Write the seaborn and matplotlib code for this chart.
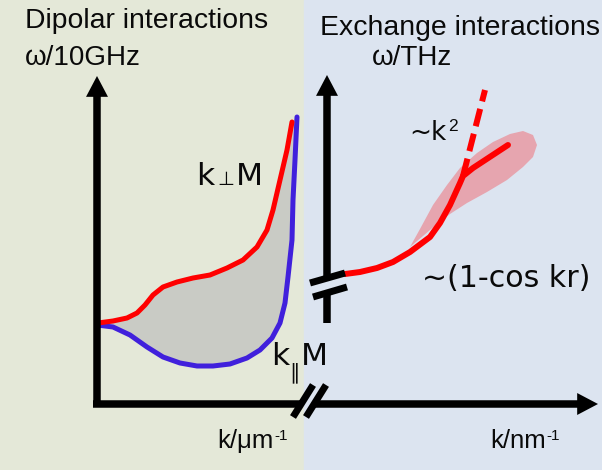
import matplotlib
matplotlib.use("Agg")
import numpy as np
import pandas as pd
import seaborn as sns
import matplotlib.pyplot as plt
from matplotlib.patches import FancyArrowPatch, ArrowStyle, Polygon

sns.set_theme(style="white")
plt.rcParams["font.family"] = ["Liberation Sans", "DejaVu Sans"]

# ---- data (picture coordinates: x right, y down) ----
k_perp_x = [98, 113, 127, 137, 145, 153, 163, 177, 193, 210, 227, 243, 257, 267, 273, 280, 287, 292]
k_perp_y = [323, 321, 318, 313, 305, 295, 287, 282, 278, 275, 268, 260, 247, 230, 210, 180, 150, 122]
k_par_x = [97, 113, 130, 147, 163, 180, 197, 213, 230, 247, 260, 272, 280, 285, 288, 292, 293, 295, 297]
k_par_y = [325, 327, 335, 347, 357, 363, 366, 366, 364, 358, 350, 338, 323, 303, 277, 240, 200, 160, 117]
exch_x = [345, 360, 377, 393, 410, 430, 440, 450, 460, 463, 473, 508]
exch_y = [274, 272, 268, 262, 252, 237, 223, 205, 183, 176, 168, 145]
k2_x = [463, 485]
k2_y = [176, 90]
blob_x = [410, 420, 433, 447, 460, 477, 493, 510, 523, 533, 537, 533, 523, 507, 487, 467, 450, 437, 423]
blob_y = [247, 229, 205, 185, 168, 153, 142, 134, 131, 135, 145, 157, 167, 180, 192, 203, 214, 224, 236]

W, H = 602, 470
fig = plt.figure(figsize=(W / 100, H / 100), dpi=100)
ax = fig.add_axes([0, 0, 1, 1])

# backgrounds
ax.axvspan(0, 304, color="#E4E8D8", zorder=0)
ax.axvspan(304, W, color="#DCE4F0", zorder=0)

# dipolar band
band = Polygon(np.column_stack([k_perp_x + k_par_x[::-1], k_perp_y + k_par_y[::-1]]),
               closed=True, facecolor="#C9CBC5", edgecolor="none", zorder=1)
ax.add_patch(band)

df_perp = pd.DataFrame({"k": k_perp_x, "w": k_perp_y})
df_par = pd.DataFrame({"k": k_par_x, "w": k_par_y})
df_ex = pd.DataFrame({"k": exch_x, "w": exch_y})
df_k2 = pd.DataFrame({"k": k2_x, "w": k2_y})

sns.lineplot(data=df_par, x="k", y="w", sort=False, estimator=None, color="#4020DC",
             lw=3.6, ax=ax, zorder=3)
sns.lineplot(data=df_perp, x="k", y="w", sort=False, estimator=None, color="#FF0000",
             lw=3.6, ax=ax, zorder=4)

# exchange blob
blob = Polygon(np.column_stack([blob_x, blob_y]), closed=True, facecolor="#E6A5AF",
               edgecolor="none", zorder=1)
ax.add_patch(blob)
sns.lineplot(data=df_ex, x="k", y="w", sort=False, estimator=None, color="#FF0000",
             lw=4.3, ax=ax, zorder=4)
sns.lineplot(data=df_k2, x="k", y="w", sort=False, estimator=None, color="#FF0000",
             lw=4.3, ax=ax, zorder=4)
ax.lines[-1].set_dashes([3, 1.3])
ax.lines[-1].set_dash_capstyle("butt")
ax.set_xlim(0, W)
ax.set_ylim(H, 0)
ax.axis("off")

# axes arrows
AX_LW = 5.4
def arrow(p0, p1):
    st = ArrowStyle.Simple(head_length=15, head_width=15.8, tail_width=AX_LW)
    a = FancyArrowPatch(p0, p1, arrowstyle=st, mutation_scale=1, lw=0, color="black",
                        shrinkA=0, shrinkB=0, zorder=5)
    ax.add_patch(a)

arrow((97, 405), (97, 76))
arrow((327, 278), (327, 75))
arrow((314, 404), (598, 404))
ax.plot([93, 301], [404, 404], color="black", lw=AX_LW, solid_capstyle="butt", zorder=5)
ax.plot([327, 327], [293, 323], color="black", lw=AX_LW, solid_capstyle="butt", zorder=5)
# break marks
for (x0, y0, x1, y1) in [(293, 417, 313, 385), (306, 417, 326, 385),
                         (310, 283, 345, 273), (313, 297, 347, 287)]:
    ax.plot([x0, x1], [y0, y1], color="black", lw=5.0, solid_capstyle="butt", zorder=6)

# texts
TC = "#0A0A0A"
T = dict(color=TC, va="baseline", ha="left")
ax.text(25, 28, "Dipolar interactions", fontsize=20.4, **T)
ax.text(25, 65, "ω/10GHz", fontsize=20, **T)
ax.text(320, 35, "Exchange interactions", fontsize=20.4, **T)
ax.text(372, 65, "ω/THz", fontsize=20, **T)
DJ = ["DejaVu Sans"]
ax.text(196, 185, "k", fontsize=22.5, family=DJ, **T)
ax.text(217, 185, "⊥", fontsize=14, family=DJ, **T)
ax.text(236, 185, "M", fontsize=22.5, family=DJ, **T)
ax.text(271, 365, "k", fontsize=22.5, family=DJ, **T)
ax.text(289, 378, "∥", fontsize=15, family=DJ, color=TC, va="baseline", ha="left")
ax.text(301, 365, "M", fontsize=22.5, family=DJ, **T)
tk = ax.text(409, 140, "~k", fontsize=19, family=DJ, **T)
ax.annotate("2", xy=(1, 1), xycoords=tk, xytext=(1, 1), textcoords="offset points",
            fontsize=12.5, color=TC, va="top", ha="left")
ax.text(422, 287, "~(1-cos kr)", fontsize=21.6, family=DJ, **T)
for x, s in [(217, "k/μm"), (490, "k/nm")]:
    t = ax.text(x, 448, s, fontsize=18.5, **T)
    ax.annotate("-1", xy=(1, 1), xycoords=t, xytext=(0.5, 0), textcoords="offset points",
                fontsize=11, color=TC, va="top", ha="left")

fig.savefig("out.png", dpi=100)
